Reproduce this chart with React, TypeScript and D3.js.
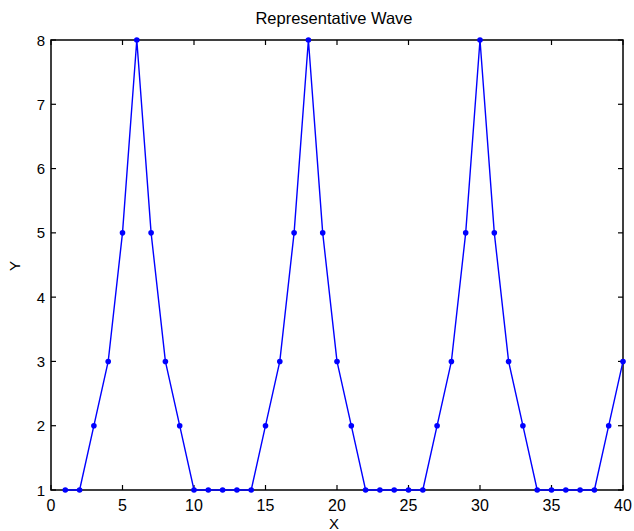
import React from "react";
import * as d3 from "d3";

const xValues = [1,2,3,4,5,6,7,8,9,10,11,12,13,14,15,16,17,18,19,20,21,22,23,24,25,26,27,28,29,30,31,32,33,34,35,36,37,38,39,40];
const yValues = [1,1,2,3,5,8,5,3,2,1,1,1,1,1,2,3,5,8,5,3,2,1,1,1,1,1,2,3,5,8,5,3,2,1,1,1,1,1,2,3];
const xTicks = [0,5,10,15,20,25,30,35,40];
const yTicks = [1,2,3,4,5,6,7,8];
const title = "Representative Wave";
const xLabel = "X";
const yLabel = "Y";

const W = 634, H = 531;
const L = 51, R = 623, T = 40, B = 490;

export default function App() {
  const x = d3.scaleLinear().domain([0, 40]).range([L, R]);
  const y = d3.scaleLinear().domain([1, 8]).range([B, T]);
  const data = xValues.map((v, i) => [v, yValues[i]] as [number, number]);
  const line = d3.line<[number, number]>().x(d => x(d[0])).y(d => y(d[1]))(data) || "";
  const font = "'Liberation Sans', Arial, sans-serif";
  const tk = 5;
  return (
    <svg width={W} height={H} style={{ position: "absolute", left: 0, top: 0, background: "#fff" }}>
      <rect x={0} y={0} width={W} height={H} fill="#fff" />
      {xTicks.map(t => (
        <g key={"x" + t}>
          <line x1={x(t)} x2={x(t)} y1={B} y2={B - tk} stroke="#000" strokeWidth={1.2} />
          <line x1={x(t)} x2={x(t)} y1={T} y2={T + tk} stroke="#000" strokeWidth={1.2} />
          <text x={x(t)} y={511} textAnchor="middle" fontFamily={font} fontSize={16} fill="#000">{t}</text>
        </g>
      ))}
      {yTicks.map(t => (
        <g key={"y" + t}>
          <line x1={L} x2={L + tk} y1={y(t)} y2={y(t)} stroke="#000" strokeWidth={1.2} />
          <line x1={R} x2={R - tk} y1={y(t)} y2={y(t)} stroke="#000" strokeWidth={1.2} />
          <text x={45} y={y(t) + 5.5} textAnchor="end" fontFamily={font} fontSize={15} fill="#000">{t}</text>
        </g>
      ))}
      <rect x={L} y={T} width={R - L} height={B - T} fill="none" stroke="#000" strokeWidth={1.5} />
      <path d={line} fill="none" stroke="#0000ff" strokeWidth={1.4} />
      {data.map((d, i) => (
        <circle key={i} cx={x(d[0])} cy={y(d[1])} r={2.8} fill="#0000ff" />
      ))}
      <text x={334} y={24} textAnchor="middle" fontFamily={font} fontSize={16.5} fill="#000">{title}</text>
      <text x={334} y={529} textAnchor="middle" fontFamily={font} fontSize={15} fill="#000">{xLabel}</text>
      <text transform={`translate(20,266) rotate(-90)`} textAnchor="middle" fontFamily={font} fontSize={15} fill="#000">{yLabel}</text>
    </svg>
  );
}
